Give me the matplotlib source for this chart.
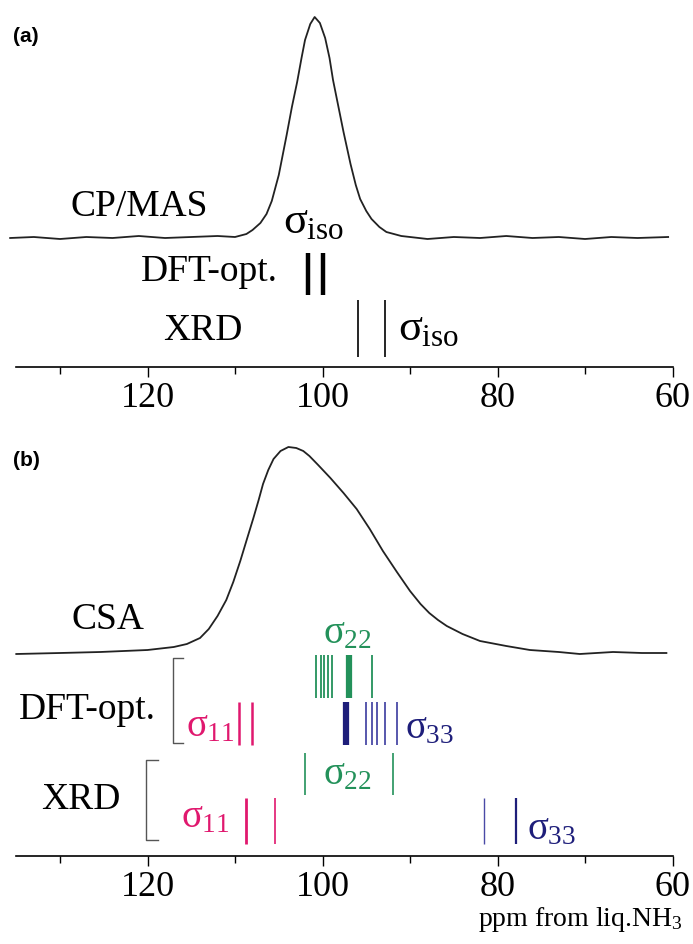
import numpy as np
import matplotlib.pyplot as plt

# Fonts: Times-like serif for everything, upright sigma in math text
plt.rcParams['font.family'] = 'serif'
plt.rcParams['font.serif'] = ['Liberation Serif', 'DejaVu Serif']
plt.rcParams['mathtext.fontset'] = 'custom'
plt.rcParams['mathtext.rm'] = 'Liberation Serif'
plt.rcParams['mathtext.it'] = 'Liberation Serif'
plt.rcParams['mathtext.bf'] = 'Liberation Serif:bold'

# ---- panel (a): CP/MAS spectrum (ppm, intensity in arb. units) ----
cpmas_ppm = [135.7, 133.0, 130.0, 127.0, 124.0, 121.0, 118.0, 115.0, 112.0, 110.0,
             108.7, 108.0, 107.1, 106.4, 105.8, 105.0, 104.1, 103.5, 102.9, 102.4,
             102.0, 101.4, 100.9, 100.3, 99.7, 99.2, 98.8, 98.2, 97.6, 96.8,
             96.2, 95.7, 95.0, 94.4, 93.5, 92.7, 91.0, 88.0, 85.0, 82.0,
             79.0, 76.0, 73.0, 70.0, 67.0, 64.0, 60.5]
cpmas_int = [129, 130, 128, 130, 129, 131, 129, 130, 131, 130,
             133, 137, 144, 153, 166, 192, 232, 260, 285, 309,
             327, 343, 350, 344, 329, 309, 287, 261, 235, 203,
             182, 168, 156, 148, 140, 135, 131, 128, 130, 129,
             131, 129, 130, 128, 130, 129, 130]
dft_iso = [101.7, 100.0]
xrd_iso = [96.0, 92.9]

# ---- panel (b): static CSA spectrum and principal components ----
csa_ppm = [135.0, 130.0, 125.4, 120.0, 117.0, 115.5, 114.0, 113.0, 112.0, 111.0,
           110.2, 109.4, 108.6, 107.9, 107.3, 106.8, 106.2, 105.6, 104.8, 103.9,
           103.0, 102.2, 101.5, 100.5, 99.1, 97.6, 96.1, 94.6, 93.1, 91.5,
           90.0, 88.8, 87.8, 86.8, 85.8, 84.0, 82.0, 79.0, 76.3, 73.0,
           70.6, 66.8, 63.5, 60.7]
csa_int = [202, 203, 204, 206, 209, 212, 218, 227, 240, 256,
           274, 295, 318, 338, 356, 372, 386, 397, 405, 409,
           408, 405, 400, 391, 378, 363, 347, 327, 305, 284,
           265, 252, 243, 236, 230, 222, 215, 210, 206, 204,
           202, 204, 203, 203]
dft_s11 = [109.5, 108.1]
dft_s22 = [100.7, 100.2, 99.8, 99.4, 98.9, 97.0, 94.4]
dft_s33 = [97.3, 95.0, 94.4, 93.8, 92.9, 91.5]
xrd_s11 = [108.7, 105.4]
xrd_s22 = [102.0, 91.9]
xrd_s33 = [81.5, 77.9]

pink = '#e0186e'
green = '#23915a'
navy = '#1e1e7a'
navy_light = '#4a4aa6'

W, H = 693, 944
fig = plt.figure(figsize=(W / 100, H / 100), dpi=100)

XLIM = (136.86, 57.66)


def make_axes(top_px, line_px):
    ax = fig.add_axes([0, 1 - line_px / H, 1, (line_px - top_px) / H])
    ax.set_xlim(*XLIM)
    ax.set_ylim(0, line_px - top_px)
    for s in ['top', 'left', 'right']:
        ax.spines[s].set_visible(False)
    ax.spines['bottom'].set_bounds(135, 60)
    ax.spines['bottom'].set_linewidth(1.2)
    ax.set_xticks([120, 100, 80, 60])
    ax.set_xticklabels(['120', '100', '80', '60'])
    ax.set_xticks([130, 110, 90, 70], minor=True)
    ax.set_yticks([])
    ax.tick_params(axis='x', which='major', direction='out', length=7, width=1.0,
                   labelsize=26, pad=4)
    ax.tick_params(axis='x', which='minor', direction='out', length=5, width=1.0)
    ax.patch.set_alpha(0)
    return ax


# ---------------- panel (a) ----------------
ax_a = make_axes(0, 367)
ax_a.plot(cpmas_ppm, cpmas_int, color='#222222', lw=1.3)
ax_a.vlines(dft_iso, 72, 114, color='black', lw=3.2)
ax_a.vlines(xrd_iso, 10, 67, color='black', lw=1.2)

ax_a.text(121.0, 160, 'CP/MAS', fontsize=27, ha='center', va='center')
ax_a.text(101.0, 145, r'$\sigma_{\mathrm{iso}}$', fontsize=32, ha='center', va='center')
ax_a.text(105.1, 95, 'DFT-opt.', fontsize=27, ha='right', va='center')
ax_a.text(109.2, 36, 'XRD', fontsize=27, ha='right', va='center')
ax_a.text(91.4, 38, r'$\sigma_{\mathrm{iso}}$', fontsize=32, ha='left', va='center')
fig.text(13 / W, 1 - 36 / H, '(a)', fontsize=15, weight='bold',
         family='Liberation Sans', ha='left', va='center')

# ---------------- panel (b) ----------------
ax_b = make_axes(400, 856)
ax_b.plot(csa_ppm, csa_int, color='#222222', lw=1.3)

# DFT-optimised tensors
ax_b.vlines(dft_s22, 158, 201, color=green, lw=[1.3, 1.3, 1.3, 1.3, 1.3, 4.5, 1.3])
ax_b.vlines(dft_s33, 111, 154, color=[navy] + [navy_light] * 5,
            lw=[4.5, 1.3, 1.3, 1.3, 1.3, 1.3])
ax_b.vlines(dft_s11, 111, 154, color=pink, lw=1.8)

# XRD tensors
ax_b.vlines(xrd_s22, 61, 103, color=green, lw=1.2)
ax_b.vlines(xrd_s11, 12, 58, color=pink, lw=[2.0, 1.2])
ax_b.vlines(xrd_s33, 12, 58, color=[navy_light, navy], lw=[1.0, 1.6])

# brackets grouping the tensor sets
ax_b.plot([116.0, 117.1, 117.1, 116.0], [198, 198, 113, 113], color='#555555', lw=1.0)
ax_b.plot([118.8, 120.2, 120.2, 118.8], [96, 96, 16, 16], color='#555555', lw=1.0)

ax_b.text(124.5, 236, 'CSA', fontsize=27, ha='center', va='center')
ax_b.text(119.1, 146, 'DFT-opt.', fontsize=27, ha='right', va='center')
ax_b.text(123.1, 56, 'XRD', fontsize=27, ha='right', va='center')

ax_b.text(97.2, 222, r'$\sigma_{22}$', fontsize=28, color=green, ha='center', va='center')
ax_b.text(110.0, 129, r'$\sigma_{11}$', fontsize=28, color=pink, ha='right', va='center')
ax_b.text(90.6, 127, r'$\sigma_{33}$', fontsize=28, color=navy, ha='left', va='center')
ax_b.text(97.2, 81, r'$\sigma_{22}$', fontsize=28, color=green, ha='center', va='center')
ax_b.text(110.6, 38, r'$\sigma_{11}$', fontsize=28, color=pink, ha='right', va='center')
ax_b.text(76.6, 26, r'$\sigma_{33}$', fontsize=28, color=navy, ha='left', va='center')

fig.text(13 / W, 1 - 461 / H, '(b)', fontsize=15, weight='bold',
         family='Liberation Sans', ha='left', va='center')
fig.text(683 / W, 1 - 920 / H, r'ppm from liq.NH$_3$', fontsize=20,
         ha='right', va='center')

fig.savefig('out.png', dpi=100)
